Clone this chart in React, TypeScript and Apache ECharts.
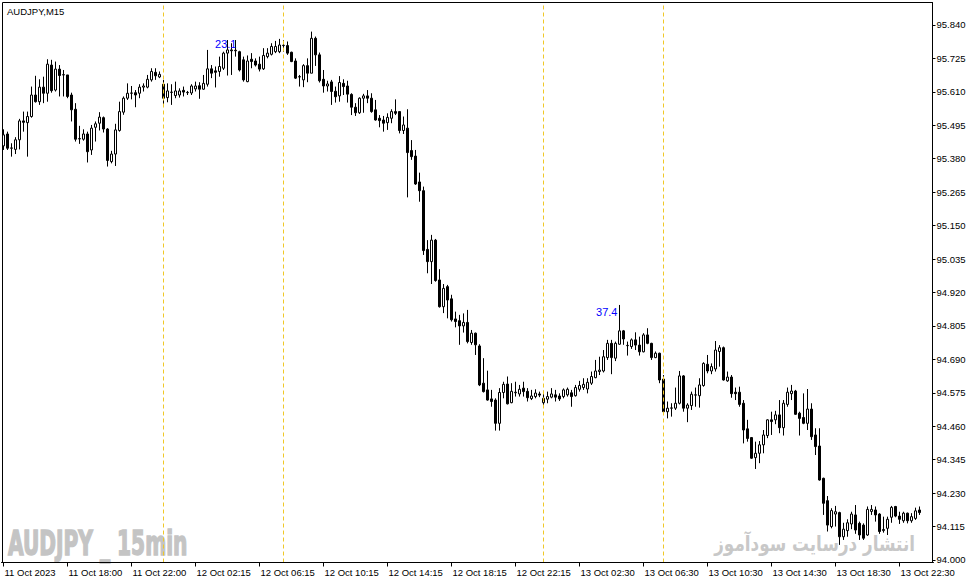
import React, { useEffect, useRef } from "react";
import * as echarts from "echarts";

// OHLC values (AUDJPY M15)
const opens = [
  95.424, 95.465, 95.416, 95.412, 95.445, 95.510, 95.504, 95.525, 95.599, 95.576,
  95.626, 95.605, 95.702, 95.616, 95.688, 95.668, 95.668, 95.599, 95.550, 95.449,
  95.447, 95.465, 95.410, 95.488, 95.502, 95.521, 95.482, 95.370, 95.396, 95.477,
  95.540, 95.588, 95.605, 95.607, 95.605, 95.626, 95.626, 95.651, 95.677, 95.661,
  95.636, 95.590, 95.608, 95.597, 95.599, 95.615, 95.607, 95.606, 95.620, 95.631,
  95.619, 95.636, 95.689, 95.682, 95.680, 95.691, 95.743, 95.754, 95.753, 95.748,
  95.720, 95.645, 95.722, 95.716, 95.705, 95.689, 95.731, 95.739, 95.748, 95.748,
  95.769, 95.769, 95.746, 95.716, 95.662, 95.651, 95.700, 95.674, 95.794, 95.737,
  95.653, 95.630, 95.644, 95.612, 95.596, 95.639, 95.630, 95.601, 95.557, 95.538,
  95.588, 95.596, 95.588, 95.548, 95.519, 95.513, 95.504, 95.519, 95.542, 95.542,
  95.477, 95.485, 95.408, 95.389, 95.300, 95.270, 95.068, 95.026, 95.100, 94.963,
  94.871, 94.940, 94.898, 94.829, 94.823, 94.805, 94.817, 94.748, 94.780, 94.736,
  94.608, 94.585, 94.554, 94.550, 94.470, 94.576, 94.605, 94.541, 94.575, 94.571,
  94.591, 94.580, 94.555, 94.562, 94.571, 94.541, 94.553, 94.560, 94.568, 94.564,
  94.562, 94.568, 94.575, 94.565, 94.587, 94.593, 94.588, 94.608, 94.627, 94.648,
  94.650, 94.696, 94.745, 94.694, 94.742, 94.788, 94.737, 94.734, 94.757, 94.739,
  94.716, 94.774, 94.745, 94.696, 94.711, 94.622, 94.510, 94.522, 94.522, 94.539,
  94.633, 94.522, 94.531, 94.567, 94.565, 94.600, 94.673, 94.650, 94.657, 94.717,
  94.730, 94.616, 94.629, 94.577, 94.577, 94.539, 94.451, 94.421, 94.352, 94.367,
  94.396, 94.428, 94.482, 94.482, 94.499, 94.455, 94.535, 94.572, 94.581, 94.505,
  94.490, 94.470, 94.519, 94.430, 94.392, 94.281, 94.204, 94.115, 94.158, 94.163,
  94.080, 94.101, 94.124, 94.155, 94.126, 94.120, 94.086, 94.167, 94.172, 94.158,
  94.101, 94.109, 94.147, 94.184, 94.151, 94.135, 94.161, 94.135, 94.143, 94.172,
];
const highs = [
  95.481, 95.473, 95.433, 95.454, 95.517, 95.542, 95.542, 95.628, 95.665, 95.653,
  95.662, 95.722, 95.720, 95.714, 95.702, 95.685, 95.668, 95.607, 95.571, 95.493,
  95.481, 95.473, 95.496, 95.508, 95.540, 95.525, 95.485, 95.407, 95.500, 95.576,
  95.594, 95.639, 95.630, 95.616, 95.636, 95.639, 95.668, 95.691, 95.691, 95.680,
  95.651, 95.639, 95.636, 95.645, 95.622, 95.628, 95.613, 95.636, 95.645, 95.643,
  95.668, 95.754, 95.702, 95.697, 95.731, 95.748, 95.788, 95.777, 95.788, 95.751,
  95.731, 95.735, 95.743, 95.725, 95.731, 95.760, 95.760, 95.777, 95.785, 95.792,
  95.788, 95.783, 95.748, 95.725, 95.668, 95.705, 95.725, 95.817, 95.800, 95.745,
  95.685, 95.648, 95.651, 95.628, 95.664, 95.653, 95.648, 95.605, 95.571, 95.591,
  95.603, 95.616, 95.605, 95.582, 95.530, 95.527, 95.536, 95.550, 95.584, 95.542,
  95.525, 95.550, 95.444, 95.410, 95.332, 95.284, 95.100, 95.118, 95.104, 95.000,
  94.949, 94.946, 94.912, 94.854, 94.843, 94.848, 94.860, 94.791, 94.782, 94.742,
  94.694, 94.651, 94.585, 94.556, 94.591, 94.613, 94.631, 94.608, 94.613, 94.602,
  94.613, 94.591, 94.585, 94.587, 94.579, 94.582, 94.579, 94.591, 94.585, 94.573,
  94.590, 94.593, 94.585, 94.602, 94.616, 94.625, 94.625, 94.648, 94.688, 94.699,
  94.722, 94.757, 94.757, 94.751, 94.877, 94.791, 94.751, 94.762, 94.783, 94.768,
  94.780, 94.797, 94.747, 94.717, 94.713, 94.636, 94.545, 94.539, 94.593, 94.650,
  94.636, 94.539, 94.579, 94.593, 94.625, 94.680, 94.705, 94.676, 94.753, 94.739,
  94.734, 94.648, 94.636, 94.593, 94.596, 94.550, 94.482, 94.423, 94.407, 94.409,
  94.447, 94.484, 94.510, 94.513, 94.550, 94.550, 94.593, 94.602, 94.585, 94.510,
  94.573, 94.588, 94.539, 94.453, 94.453, 94.283, 94.220, 94.178, 94.186, 94.166,
  94.128, 94.140, 94.166, 94.189, 94.132, 94.126, 94.184, 94.189, 94.184, 94.161,
  94.149, 94.149, 94.186, 94.186, 94.166, 94.166, 94.163, 94.161, 94.180, 94.184,
];
const lows = [
  95.410, 95.410, 95.387, 95.396, 95.412, 95.473, 95.387, 95.521, 95.573, 95.565,
  95.571, 95.576, 95.607, 95.611, 95.594, 95.594, 95.588, 95.508, 95.439, 95.431,
  95.442, 95.367, 95.393, 95.439, 95.477, 95.470, 95.353, 95.364, 95.355, 95.473,
  95.531, 95.582, 95.584, 95.557, 95.588, 95.611, 95.622, 95.645, 95.651, 95.657,
  95.563, 95.574, 95.565, 95.588, 95.590, 95.594, 95.599, 95.599, 95.611, 95.586,
  95.617, 95.628, 95.657, 95.625, 95.662, 95.685, 95.666, 95.668, 95.731, 95.680,
  95.645, 95.643, 95.691, 95.697, 95.680, 95.685, 95.725, 95.735, 95.743, 95.743,
  95.748, 95.737, 95.712, 95.654, 95.628, 95.626, 95.643, 95.674, 95.699, 95.642,
  95.607, 95.611, 95.565, 95.573, 95.576, 95.599, 95.573, 95.530, 95.527, 95.534,
  95.538, 95.571, 95.538, 95.511, 95.488, 95.473, 95.479, 95.502, 95.530, 95.467,
  95.465, 95.247, 95.376, 95.290, 95.232, 95.049, 94.986, 94.949, 94.957, 94.868,
  94.849, 94.831, 94.820, 94.800, 94.740, 94.782, 94.745, 94.740, 94.705, 94.598,
  94.576, 94.548, 94.527, 94.445, 94.445, 94.556, 94.535, 94.539, 94.562, 94.562,
  94.562, 94.545, 94.550, 94.556, 94.560, 94.530, 94.539, 94.556, 94.545, 94.547,
  94.556, 94.562, 94.527, 94.562, 94.579, 94.585, 94.573, 94.602, 94.625, 94.636,
  94.645, 94.688, 94.639, 94.684, 94.740, 94.740, 94.703, 94.726, 94.722, 94.703,
  94.714, 94.742, 94.688, 94.694, 94.608, 94.504, 94.487, 94.493, 94.516, 94.535,
  94.510, 94.474, 94.516, 94.527, 94.524, 94.596, 94.642, 94.639, 94.648, 94.665,
  94.617, 94.613, 94.558, 94.550, 94.527, 94.401, 94.407, 94.348, 94.313, 94.333,
  94.367, 94.419, 94.430, 94.467, 94.436, 94.428, 94.527, 94.550, 94.499, 94.428,
  94.467, 94.447, 94.413, 94.361, 94.273, 94.155, 94.098, 94.109, 94.115, 94.052,
  94.069, 94.080, 94.106, 94.090, 94.069, 94.069, 94.083, 94.155, 94.132, 94.090,
  94.094, 94.086, 94.128, 94.147, 94.124, 94.128, 94.126, 94.128, 94.138, 94.155,
];
const closes = [
  95.462, 95.416, 95.417, 95.445, 95.510, 95.505, 95.525, 95.599, 95.576, 95.626,
  95.605, 95.705, 95.614, 95.688, 95.666, 95.669, 95.594, 95.548, 95.447, 95.448,
  95.465, 95.404, 95.485, 95.500, 95.523, 95.482, 95.374, 95.396, 95.479, 95.542,
  95.588, 95.605, 95.606, 95.599, 95.626, 95.630, 95.653, 95.680, 95.665, 95.670,
  95.588, 95.613, 95.609, 95.613, 95.613, 95.609, 95.608, 95.630, 95.630, 95.619,
  95.639, 95.689, 95.674, 95.677, 95.697, 95.743, 95.754, 95.751, 95.751, 95.685,
  95.651, 95.716, 95.714, 95.702, 95.688, 95.735, 95.743, 95.766, 95.766, 95.771,
  95.770, 95.743, 95.714, 95.657, 95.661, 95.700, 95.674, 95.794, 95.737, 95.648,
  95.630, 95.637, 95.611, 95.593, 95.642, 95.628, 95.602, 95.557, 95.538, 95.588,
  95.596, 95.588, 95.542, 95.513, 95.511, 95.502, 95.522, 95.542, 95.536, 95.477,
  95.496, 95.401, 95.387, 95.293, 95.270, 95.064, 95.026, 95.100, 94.961, 94.871,
  94.934, 94.894, 94.826, 94.820, 94.805, 94.817, 94.751, 94.780, 94.740, 94.602,
  94.579, 94.550, 94.545, 94.470, 94.576, 94.604, 94.537, 94.580, 94.577, 94.587,
  94.579, 94.558, 94.564, 94.574, 94.567, 94.556, 94.562, 94.571, 94.560, 94.554,
  94.585, 94.587, 94.562, 94.593, 94.600, 94.604, 94.611, 94.631, 94.650, 94.653,
  94.699, 94.745, 94.696, 94.745, 94.788, 94.760, 94.738, 94.757, 94.739, 94.716,
  94.774, 94.745, 94.696, 94.711, 94.619, 94.510, 94.522, 94.523, 94.539, 94.633,
  94.522, 94.533, 94.570, 94.568, 94.602, 94.676, 94.650, 94.665, 94.722, 94.730,
  94.619, 94.629, 94.572, 94.572, 94.535, 94.447, 94.418, 94.350, 94.367, 94.396,
  94.430, 94.482, 94.476, 94.499, 94.455, 94.539, 94.577, 94.581, 94.501, 94.487,
  94.470, 94.519, 94.424, 94.390, 94.275, 94.195, 94.120, 94.170, 94.166, 94.080,
  94.106, 94.128, 94.158, 94.103, 94.086, 94.075, 94.174, 94.174, 94.155, 94.098,
  94.105, 94.140, 94.181, 94.151, 94.140, 94.161, 94.135, 94.149, 94.169, 94.163,
];

// price labels on the right axis
const priceTicks = [
  94.0, 94.115, 94.23, 94.345, 94.46, 94.575, 94.69, 94.805, 94.92, 95.035,
  95.15, 95.265, 95.38, 95.495, 95.61, 95.725, 95.84,
];

// bar times: 15-minute bars from 11 Oct 14:00, the 00:00 bar is absent each day
const monthName = "Oct";
function buildCategories(count: number, extra: number): string[] {
  const out: string[] = [];
  let day = 11;
  let minutes = 14 * 60;
  while (out.length < count) {
    const hh = String(Math.floor(minutes / 60)).padStart(2, "0");
    const mm = String(minutes % 60).padStart(2, "0");
    if (minutes !== 0) out.push(`${day} ${monthName} ${hh}:${mm}`);
    minutes += 15;
    if (minutes >= 24 * 60) {
      minutes -= 24 * 60;
      day += 1;
    }
  }
  for (let i = 0; i < extra; i++) out.push("");
  return out;
}
const categories = buildCategories(opens.length, 3);
const firstLabel = "11 Oct 2023";

// vertical separators (bar indices) and annotation labels
const separatorBars = [40, 70, 135, 165];
const notes = [
  { bar: 58, text: "23.1", offset: [1.5, 4] },
  { bar: 154, text: "37.4", offset: [-1.5, 7] },
];

export default function App() {
  const ref = useRef<HTMLDivElement>(null);
  useEffect(() => {
    if (!ref.current) return;
    const chart = echarts.init(ref.current, undefined, { renderer: "svg" });
    const ohlc = opens.map((o, i) => [o, closes[i], lows[i], highs[i]]);
    const font = "'Liberation Sans', Arial, sans-serif";
    chart.setOption({
      animation: false,
      backgroundColor: "#ffffff",
      grid: { left: 1.5, top: 2.5, width: 932, height: 560, show: false },
      xAxis: {
        type: "category",
        data: categories,
        boundaryGap: true,
        axisLine: { show: true, lineStyle: { color: "#000", width: 1 } },
        axisTick: {
          show: true,
          interval: 15,
          alignWithLabel: true,
          length: 4,
          lineStyle: { color: "#000" },
        },
        axisLabel: {
          interval: 15,
          align: "left",
          margin: 5,
          color: "#000",
          fontSize: 9.5,
          fontFamily: font,
          padding: [0, 0, 0, 1],
          formatter: (v: string, idx: number) => (idx === 0 ? firstLabel : v),
        },
        splitLine: { show: false },
      },
      yAxis: {
        type: "value",
        position: "right",
        offset: -1,
        min: 93.9914,
        max: 95.9171,
        scale: true,
        axisLine: { show: true, lineStyle: { color: "#000", width: 1 } },
        axisTick: {
          show: true,
          length: 3,
          customValues: priceTicks,
          lineStyle: { color: "#000" },
        },
        axisLabel: {
          customValues: priceTicks,
          margin: 4,
          color: "#000",
          fontSize: 9.5,
          fontFamily: font,
          formatter: (v: number) => v.toFixed(3),
        },
        splitLine: { show: false },
      },
      series: [
        {
          type: "candlestick",
          data: ohlc,
          barWidth: 2,
          itemStyle: {
            color: "#ffffff",
            color0: "#000000",
            borderColor: "#000000",
            borderColor0: "#000000",
            borderWidth: 1,
          },
          markLine: {
            silent: true,
            symbol: ["none", "none"],
            label: { show: false },
            lineStyle: { color: "#f0c828", type: [4, 3], width: 1 },
            data: separatorBars.map((b) => ({ xAxis: categories[b] })),
          },
          markPoint: {
            symbol: "circle",
            symbolSize: 1,
            silent: true,
            itemStyle: { color: "rgba(0,0,0,0)" },
            data: notes.map((n) => ({
              coord: [categories[n.bar], highs[n.bar]],
              label: {
                show: true,
                formatter: n.text,
                position: "left",
                distance: 0,
                offset: n.offset,
                color: "#0000ff",
                fontSize: 11,
                fontFamily: font,
              },
            })),
          },
        },
      ],
      graphic: [
        {
          type: "rect",
          shape: { x: 2.5, y: 2.5, width: 930, height: 560 },
          style: { fill: "none", stroke: "#000", lineWidth: 1 },
          silent: true,
          z: 10,
        },
        {
          type: "text",
          x: 7,
          y: 11,
          style: {
            text: "AUDJPY,M15",
            fill: "#000",
            font: `9.5px ${font}`,
            textVerticalAlign: "middle",
          },
          z: 11,
        },
        {
          type: "text",
          x: 8,
          y: 544,
          scaleX: 0.68,
          scaleY: 1,
          style: {
            text: "AUDJPY _ 15min",
            fill: "#c4c4c4",
            stroke: "#c4c4c4",
            lineWidth: 1.4,
            font: "bold 33px 'DejaVu Sans Condensed', 'Liberation Sans', sans-serif",
            textVerticalAlign: "middle",
          },
          z: 1,
        },
        {
          type: "text",
          x: 915,
          y: 543,
          scaleX: 0.8,
          scaleY: 1,
          style: {
            text: "انتشار درسایت سودآموز",
            fill: "#c8c8c8",
            font: "bold 21px 'DejaVu Sans', sans-serif",
            textAlign: "right",
            textVerticalAlign: "middle",
          },
          z: 1,
        },
      ],
    });
    return () => chart.dispose();
  }, []);
  return (
    <div
      ref={ref}
      style={{ position: "fixed", left: 0, top: 0, width: 972, height: 584, background: "#fff" }}
    />
  );
}
